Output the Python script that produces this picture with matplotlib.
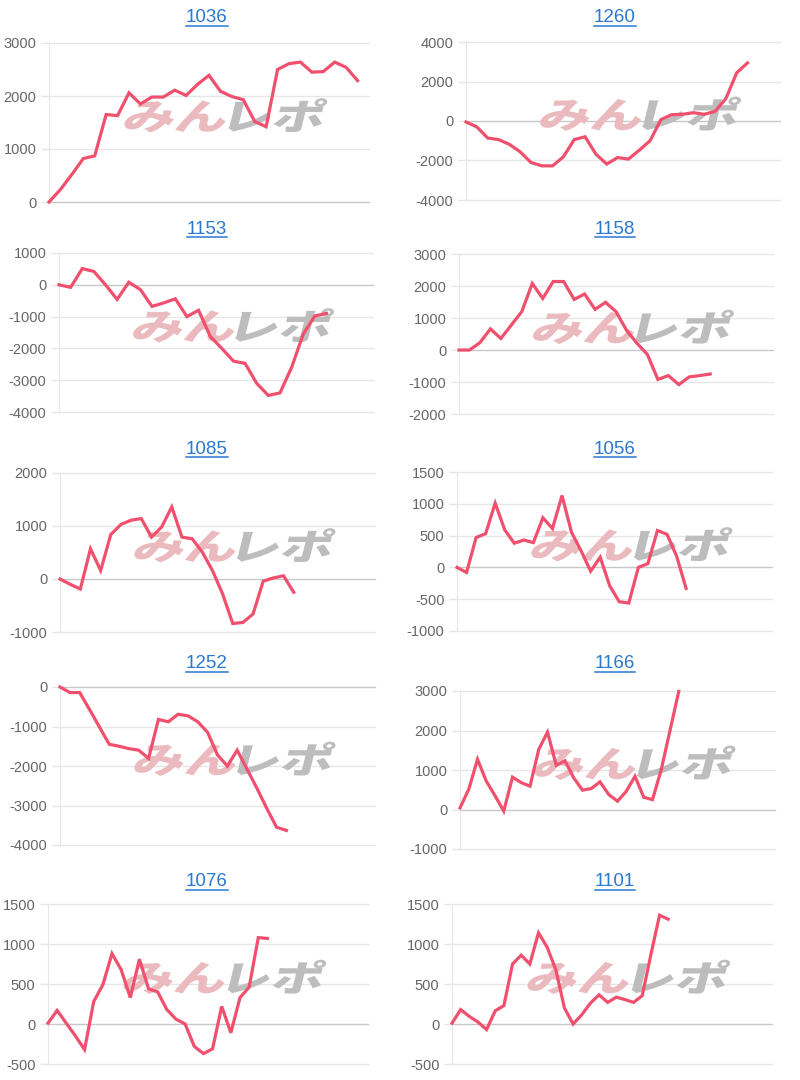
import matplotlib
matplotlib.use("Agg")
from matplotlib import pyplot as plt
from matplotlib import transforms as mtransforms
from matplotlib.textpath import TextPath
from matplotlib.patches import PathPatch
from matplotlib.font_manager import FontProperties
from matplotlib.lines import Line2D

# panel titles (machine numbers), left to right, top to bottom
titles = ["1036", "1260", "1153", "1158", "1085", "1056", "1252", "1166", "1076", "1101"]

# cumulative values
v1036 = [0, 235, 520, 820, 870, 1650, 1630, 2060, 1850, 1980, 1980, 2110, 2010, 2220,
         2390, 2090, 1990, 1930, 1520, 1420, 2500, 2610, 2640, 2450, 2460, 2640, 2540, 2290]
v1260 = [-50, -300, -860, -940, -1180, -1560, -2100, -2270, -2270, -1810, -940, -800, -1680,
         -2180, -1850, -1930, -1480, -1000, 70, 320, 340, 420, 340, 490, 1130, 2440, 2940]
v1153 = [0, -80, 510, 420, 0, -460, 80, -150, -680, -570, -440, -1000, -800, -1620, -2000,
         -2400, -2470, -3100, -3480, -3400, -2600, -1550, -980, -900]
v1158 = [0, 0, 230, 660, 360, 780, 1200, 2080, 1610, 2140, 2140, 1580, 1750, 1270, 1490,
         1200, 620, 210, -140, -920, -800, -1080, -840, -800, -750]
v1085 = [0, -100, -190, 570, 160, 840, 1030, 1110, 1140, 790, 980, 1360, 790, 760, 510, 160,
         -280, -840, -820, -660, -40, 20, 60, -250]
v1056 = [0, -80, 470, 530, 1010, 590, 380, 430, 390, 780, 610, 1130, 550, 260, -60, 160,
         -290, -540, -560, 0, 60, 580, 520, 180, -330]
v1252 = [0, -140, -140, -570, -1010, -1450, -1500, -1560, -1600, -1810, -820, -880, -690,
         -730, -880, -1150, -1720, -2000, -1600, -2080, -2560, -3070, -3550, -3630]
v1166 = [40, 510, 1270, 720, 350, -40, 820, 680, 590, 1520, 1960, 1120, 1230, 800, 490, 530,
         700, 380, 210, 460, 840, 310, 250, 1010, 2000, 2990]
v1076 = [10, 170, 10, -150, -320, 280, 490, 880, 680, 330, 810, 440, 400, 180, 60, 0, -280,
         -370, -310, 220, -110, 330, 460, 1080, 1070]
v1101 = [10, 180, 95, 25, -70, 165, 230, 750, 860, 750, 1140, 960, 680, 200, 0, 115, 260,
         365, 270, 335, 305, 270, 355, 870, 1360, 1310]
series = [v1036, v1260, v1153, v1158, v1085, v1056, v1252, v1166, v1076, v1101]

# number of x categories on each axis
n_slots = [29, 30, 28, 31, 32, 34, 33, 37, 36, 38]

y_ticks = [
    [0, 1000, 2000, 3000],
    [-4000, -2000, 0, 2000, 4000],
    [-4000, -3000, -2000, -1000, 0, 1000],
    [-2000, -1000, 0, 1000, 2000, 3000],
    [-1000, 0, 1000, 2000],
    [-1000, -500, 0, 500, 1000, 1500],
    [-4000, -3000, -2000, -1000, 0],
    [-1000, 0, 1000, 2000, 3000],
    [-500, 0, 500, 1000, 1500],
    [-500, 0, 500, 1000, 1500],
]

# plot boxes in pixels: left, right, top, bottom
boxes = [
    (49, 369, 43, 202), (466, 780, 42, 200),
    (59, 373, 253, 412), (459, 773, 254, 414),
    (60, 375, 473, 632), (457, 772, 472, 631),
    (60, 375, 687, 845), (460, 775, 691, 849),
    (48, 368, 904, 1064), (452, 772, 904, 1064),
]
title_y = [18, 229, 449, 664, 882]

W, H = 800, 1080
LINE = "#f0506e"
GRID = "#e6e6e6"
ZERO = "#c8c8c8"
LINK = "#2a78d0"

fig = plt.figure(figsize=(W / 100, H / 100), dpi=100)
jp = FontProperties(family="Noto Sans CJK JP", weight="black")


def watermark(ax):
    # "みん" pink, "レポ" grey, slanted and squat
    for txt, col, xa in (("みん", "#ebbabe", 0.225), ("レポ", "#bdbdbd", 0.53)):
        tp = TextPath((0, 0), txt, size=1, prop=jp)
        tr = (mtransforms.Affine2D().scale(52, 36).skew_deg(14, 0)
              + mtransforms.ScaledTranslation(xa, 0.455, ax.transAxes))
        ax.add_patch(PathPatch(tp, transform=tr, facecolor=col, edgecolor="none",
                               zorder=1.5, clip_on=False))


texts = []
for i, vals in enumerate(series):
    l, r, t, b = boxes[i]
    ax = fig.add_axes([l / W, 1 - b / H, (r - l) / W, (b - t) / H])
    ticks = y_ticks[i]
    ax.plot(range(len(vals)), vals, color=LINE, lw=2.3, zorder=3, solid_joinstyle="miter",
            clip_on=False)
    ax.set_xlim(0, n_slots[i] - 1)
    ax.set_ylim(ticks[0], ticks[-1])
    ax.set_yticks(ticks)
    ax.set_yticklabels([str(v) for v in ticks], fontsize=10.5, color="#666666",
                       family="Liberation Sans")
    ax.set_xticks([])
    for v in ticks:
        ax.axhline(v, color=ZERO if v == 0 else GRID, lw=1, zorder=1, clip_on=False)
    ax.tick_params(axis="y", length=6, width=1, color=GRID, pad=3)
    for s in ["top", "right", "bottom"]:
        ax.spines[s].set_visible(False)
    ax.spines["left"].set_color(GRID)
    ax.spines["left"].set_zorder(1)
    watermark(ax)

    tx = 207 if i % 2 == 0 else 615
    ty = title_y[i // 2]
    texts.append(fig.text(tx / W, 1 - ty / H, titles[i], ha="center", va="center",
                          fontsize=13.5, color=LINK, family="Liberation Sans"))

# underline the titles like links
fig.canvas.draw()
rend = fig.canvas.get_renderer()
for tt in texts:
    bb = tt.get_window_extent(rend)
    yy = bb.y0 + 1
    fig.add_artist(Line2D([bb.x0 / W, bb.x1 / W], [yy / H, yy / H], color=LINK, lw=1.1))

fig.savefig("out.png", dpi=100, facecolor="white")
